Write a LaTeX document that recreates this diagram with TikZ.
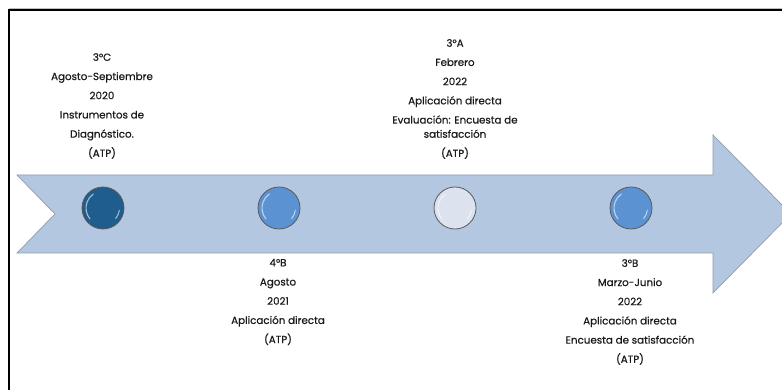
\documentclass[tikz,border=0pt]{standalone}
\usepackage{fontspec}
\setmainfont{Poppins}[BoldFont=Poppins, BoldFeatures={FakeBold=0.6}]
\usetikzlibrary{calc}
\definecolor{arrowfill}{HTML}{B4C7E1}
\definecolor{arrowline}{HTML}{8E9BAC}
\definecolor{dotdark}{HTML}{1E5D8E}
\definecolor{dotmid}{HTML}{5B93D2}
\definecolor{dotlight}{HTML}{DCE3EE}
\definecolor{txt}{HTML}{1A1A1A}
\begin{document}
\begin{tikzpicture}[x=1pt,y=1pt,
  dot/.style={circle, minimum size=42pt, inner sep=0pt, draw=black!65, line width=0.8pt},
  label/.style={align=center, font=\fontsize{10.3}{19.2}\selectfont\bfseries, text=txt, inner sep=0pt}]
\useasboundingbox (0,0) rectangle (782,390);
\begin{scope}
\clip (0,0) rectangle (782,390);
% frame
\draw[black!25, line width=1pt] (9,381.5) -- (782,381.5);
\draw[black, line width=2pt] (9,0) -- (9,380) -- (782,380);
% arrow
\draw[fill=arrowfill, draw=arrowline, line width=0.7pt]
  (17,215) -- (713,215) -- (713,255) -- (791,176) -- (713,97) -- (713,137)
  -- (17,137) -- (55,176) -- cycle;
\end{scope}
% dots
\node[dot, fill=dotdark]  (c1) at (103,182) {};
\node[dot, fill=dotmid]   (c2) at (279,182) {};
\node[dot, fill=dotlight] (c3) at (455,182) {};
\node[dot, fill=dotmid]   (c4) at (631,182) {};
\foreach \c in {c1,c2,c3,c4}{
  \draw[white, line width=1.1pt, opacity=0.6, line cap=round]
    ($(\c)+(220:17)$) arc[start angle=220, end angle=125, radius=17];
  \draw[white, line width=1pt, opacity=0.6, line cap=round]
    ($(\c)+(-8:16.5)$) arc[start angle=-8, end angle=-40, radius=16.5];
}
% texts
\node[label] (t1) at (102,284) {3°C\\Agosto-Septiembre\\2020\\Instrumentos de\\Diagnóstico.\\(ATP)};
\node[label] (t3) at (455,291) {3°A\\Febrero\\2022\\Aplicación directa\\Evaluación: Encuesta de\\[-5pt]satisfacción\\(ATP)};
\node[label] (t2) at (278,88) {4°B\\Agosto\\2021\\Aplicación directa\\(ATP)};
\node[label] (t4) at (630,78) {3°B\\Marzo-Junio\\2022\\Aplicación directa\\Encuesta de satisfacción\\(ATP)};
\end{tikzpicture}
\end{document}
